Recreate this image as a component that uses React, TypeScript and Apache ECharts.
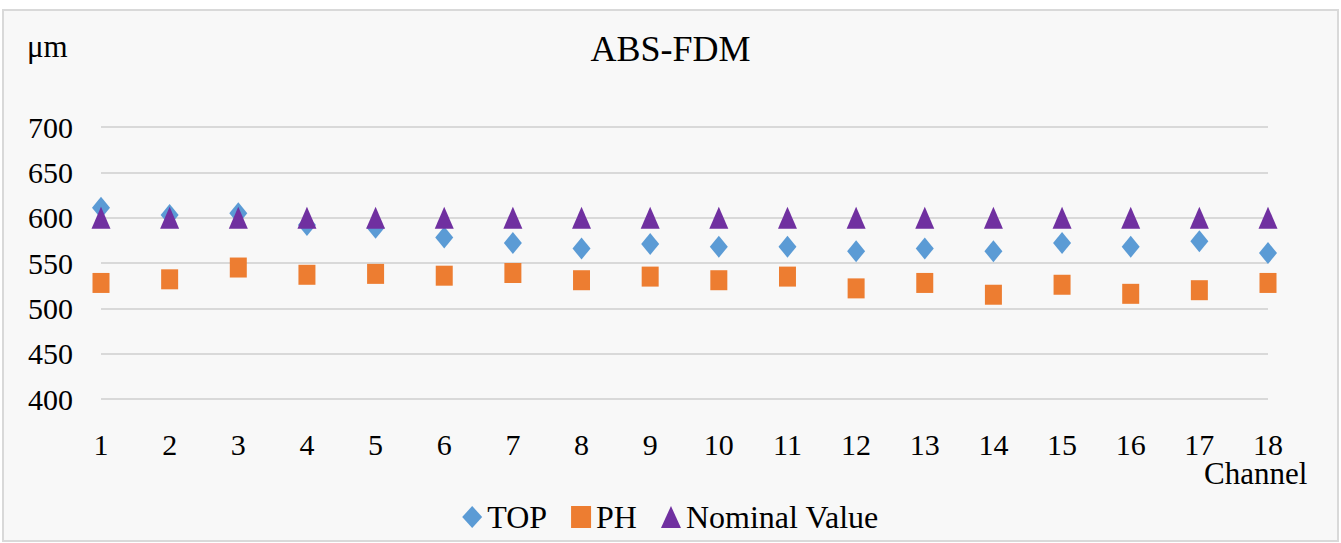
import React, { useEffect, useRef } from "react";
import * as echarts from "echarts";

const channels = ["1","2","3","4","5","6","7","8","9","10","11","12","13","14","15","16","17","18"];
const topValues = [611, 603, 605, 592, 589, 578, 572, 566, 571, 568, 568, 563, 566, 563, 572, 568, 574, 561];
const phValues = [528, 532, 545, 537, 538, 536, 539, 531, 535, 531, 535, 522, 528, 515, 526, 516, 520, 528];
const nominalValues = [600, 600, 600, 600, 600, 600, 600, 600, 600, 600, 600, 600, 600, 600, 600, 600, 600, 600];

const FONT = "Liberation Serif";
const legendText = { fontFamily: FONT, fontSize: 32, color: "#000" };

export default function App() {
  const ref = useRef<HTMLDivElement>(null);
  useEffect(() => {
    if (!ref.current) return;
    const chart = echarts.init(ref.current, null, { renderer: "svg" });
    chart.setOption({
      animation: false,
      backgroundColor: "#ffffff",
      textStyle: { fontFamily: FONT },
      graphic: [
        {
          type: "rect",
          z: -10,
          shape: { x: 3, y: 10, width: 1335, height: 531 },
          style: { fill: "#f8f8f8", stroke: "#d9d9d9", lineWidth: 2 },
        },
        {
          type: "text",
          x: 27,
          y: 46,
          style: { text: "μm", fontFamily: FONT, fontSize: 31, fill: "#000", verticalAlign: "middle" },
        },
        {
          type: "text",
          x: 1204,
          y: 473,
          style: { text: "Channel", fontFamily: FONT, fontSize: 31, fill: "#000", verticalAlign: "middle" },
        },
      ],
      title: {
        text: "ABS-FDM",
        left: "center",
        top: 26,
        textStyle: { fontFamily: FONT, fontSize: 36, fontWeight: "normal", color: "#000" },
      },
      legend: {
        left: "center",
        top: 496,
        itemWidth: 20,
        itemHeight: 22,
        itemGap: 24,
        textStyle: legendText,
        data: [
          { name: "TOP", icon: "diamond", textStyle: legendText },
          { name: "PH", icon: "rect", textStyle: legendText },
          { name: "Nominal Value", icon: "triangle", textStyle: legendText },
        ],
      },
      grid: { left: 101, right: 73, top: 127, bottom: 144 },
      xAxis: {
        type: "category",
        data: channels,
        boundaryGap: false,
        axisLine: { show: false },
        axisTick: { show: false },
        axisLabel: { fontFamily: FONT, fontSize: 30, color: "#000", margin: 30, interval: 0 },
      },
      yAxis: {
        type: "value",
        min: 400,
        max: 700,
        interval: 50,
        axisLine: { show: false },
        axisTick: { show: false },
        axisLabel: { fontFamily: FONT, fontSize: 30, color: "#000", margin: 28 },
        splitLine: { lineStyle: { color: "#d9d9d9", width: 2 } },
      },
      series: [
        {
          name: "TOP",
          type: "scatter",
          data: topValues,
          symbol: "diamond",
          symbolSize: [18, 22],
          itemStyle: { color: "#5b9bd5", opacity: 1 },
        },
        {
          name: "PH",
          type: "scatter",
          data: phValues,
          symbol: "rect",
          symbolSize: [17, 20],
          itemStyle: { color: "#ed7d31", opacity: 1 },
        },
        {
          name: "Nominal Value",
          type: "scatter",
          data: nominalValues,
          symbol: "triangle",
          symbolSize: [19, 22],
          itemStyle: { color: "#7030a0", opacity: 1 },
        },
      ],
    });
    return () => chart.dispose();
  }, []);
  return (
    <div
      ref={ref}
      style={{ position: "fixed", left: 0, top: 0, width: 1341, height: 543 }}
    />
  );
}
